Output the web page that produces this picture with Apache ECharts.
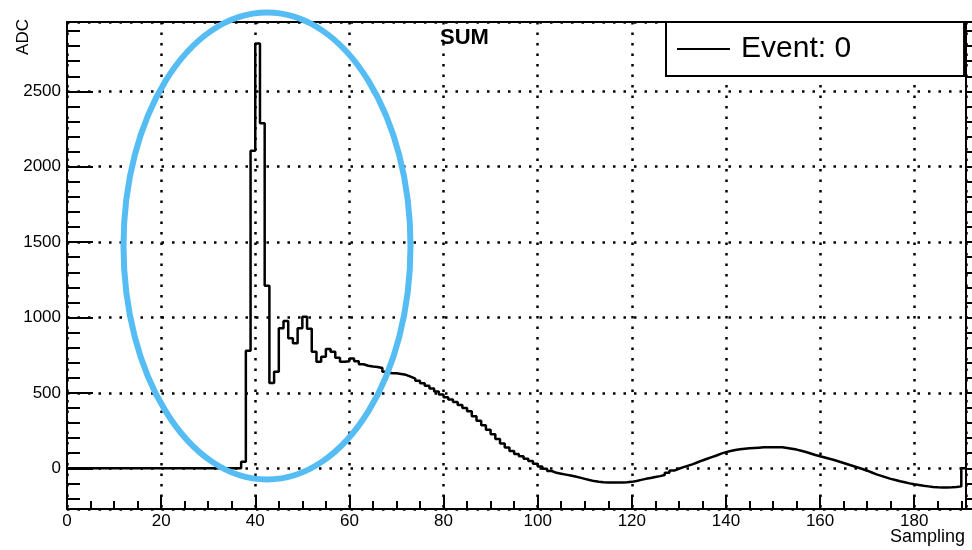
<!DOCTYPE html>
<html>
<head>
<meta charset="utf-8">
<script src="https://cdn.jsdelivr.net/npm/echarts@6/dist/echarts.min.js"></script>
<style>html,body{margin:0;padding:0;background:#fff}#c{width:972px;height:550px}</style>
</head>
<body>
<div id="c"></div>
<script>
// Histogram "SUM", bins of width 1 on the Sampling axis (bin i spans [i, i+1])
// bins 0-36
const baseline = [0,0,0,0,0,0,0,0,0,0, 0,0,0,0,0,0,0,0,0,0, 0,0,0,0,0,0,0,0,0,0, 0,0,0,0,0,0,0];
// bins 37-60
const pulse = [44,780,2106,2818,2288,1210,565,641,928,977, 862,829,928,1005,925,773,707,740,791,773, 733,707,710,729];
// bins 61-130
const tail = [710,690,680,675,672,665,640,630,630,625, 620,608,595,580,564,547,530,510,490,472,
              457,440,420,400,378,345,315,285,255,225, 195,165,138,115,95,80,63,48,30,12,
              -3,-18,-30,-36,-42,-48,-54,-62,-70,-78, -85,-89,-92,-94,-95,-95,-95,-93,-90,-84,
              -77,-70,-64,-58,-52,-44,-30,-15,-3,8];
// bins 131-190
const wave = [18,28,40,52,63,74,85,97,107,115, 121,126,130,133,135,137,139,140,140,140,
              139,135,130,124,116,108,98,88,80,72, 63,55,45,35,25,15,5,-5,-16,-28,
              -40,-50,-60,-70,-78,-86,-93,-100,-106,-111, -116,-120,-124,-126,-127,-127,-126,-124,-120,0];

const seriesName = 'Event: 0';
const titleText = 'SUM';
const xName = 'Sampling';
const yName = 'ADC';

const values = baseline.concat(pulse, tail, wave);
const stepData = values.map((v, i) => [i, v]);
stepData.push([values.length, values[values.length - 1]]);

const X_MIN = 0, X_MAX = values.length;
const Y_MIN = -270, Y_MAX = 2960;

const font = 'Liberation Sans';
const black = '#000';
const dotted = { color: black, width: 2.5, type: [2.5, 8] };

const chart = echarts.init(document.getElementById('c'), null, { renderer: 'canvas' });
chart.setOption({
  animation: false,
  backgroundColor: '#fff',
  title: {
    text: titleText, left: 440, top: 27, padding: 0,
    textStyle: { fontSize: 22, fontWeight: 'bold', color: black, fontFamily: font }
  },
  legend: {
    left: 666, top: 22, icon: 'rect', itemWidth: 53, itemHeight: 2,
    padding: [12, 113, 12, 11], borderColor: black, borderWidth: 2, borderRadius: 0,
    backgroundColor: '#fff', selectedMode: false,
    textStyle: { fontSize: 30, color: black, fontFamily: font, padding: [0, 0, 0, 6] },
    data: [seriesName]
  },
  grid: {
    left: 67, right: 6, top: 22, bottom: 41, show: true,
    borderColor: black, borderWidth: 2, backgroundColor: 'transparent',
    containLabel: false, outerBoundsMode: 'none'
  },
  xAxis: [
    {
      type: 'value', position: 'bottom', min: X_MIN, max: X_MAX, interval: 20,
      axisLine: { show: true, onZero: false, lineStyle: { color: black, width: 2 } },
      axisTick: { show: true, inside: true, length: 14, lineStyle: { color: black, width: 2 } },
      axisLabel: { color: black, fontSize: 17, fontFamily: font, margin: 4,
        formatter: v => (v % 20 === 0 ? String(v) : '') },
      splitLine: { show: true, lineStyle: dotted }
    },
    {
      type: 'value', position: 'bottom', min: X_MIN, max: X_MAX, interval: 5,
      axisLine: { show: false, onZero: false },
      axisTick: { show: true, inside: true, length: 8, lineStyle: { color: black, width: 2 } },
      axisLabel: { show: false }, splitLine: { show: false }
    }
  ],
  yAxis: [
    {
      type: 'value', position: 'left', min: Y_MIN, max: Y_MAX, splitNumber: 6,
      axisLine: { show: true, onZero: false, lineStyle: { color: black, width: 2 } },
      axisTick: { show: true, inside: true, length: 26, lineStyle: { color: black, width: 2 } },
      axisLabel: { color: black, fontSize: 17, fontFamily: font, margin: 6,
        formatter: v => (v % 500 === 0 ? String(v) : '') },
      splitLine: { show: true, lineStyle: dotted }
    },
    {
      type: 'value', position: 'left', min: Y_MIN, max: Y_MAX, splitNumber: 32,
      axisLine: { show: false, onZero: false },
      axisTick: { show: true, inside: true, length: 13, lineStyle: { color: black, width: 2 } },
      axisLabel: { show: false }, splitLine: { show: false }
    },
    {
      type: 'value', position: 'right', min: Y_MIN, max: Y_MAX, splitNumber: 32,
      axisLine: { show: true, onZero: false, lineStyle: { color: black, width: 2 } },
      axisTick: { show: true, inside: false, length: 6, lineStyle: { color: black, width: 2 } },
      axisLabel: { show: false }, splitLine: { show: false }
    }
  ],
  series: [{
    name: seriesName, type: 'line', step: 'end', data: stepData,
    xAxisIndex: 0, yAxisIndex: 0,
    showSymbol: false, symbol: 'none',
    itemStyle: { color: black },
    lineStyle: { color: black, width: 2.5 },
    z: 5
  }],
  graphic: [
    {
      type: 'ellipse', silent: true, z: 100,
      shape: { cx: 267, cy: 246, rx: 143.5, ry: 233.5 },
      style: { fill: 'none', stroke: '#56bdf4', lineWidth: 6 }
    },
    {
      type: 'text', x: 15, y: 19, rotation: Math.PI / 2, z: 100,
      style: { text: yName, fontSize: 17, fontFamily: font, fill: black, align: 'right', verticalAlign: 'top' }
    },
    {
      type: 'text', x: 965, y: 528, z: 100,
      style: { text: xName, fontSize: 18, fontFamily: font, fill: black, align: 'right', verticalAlign: 'top' }
    }
  ]
});
</script>
</body>
</html>
